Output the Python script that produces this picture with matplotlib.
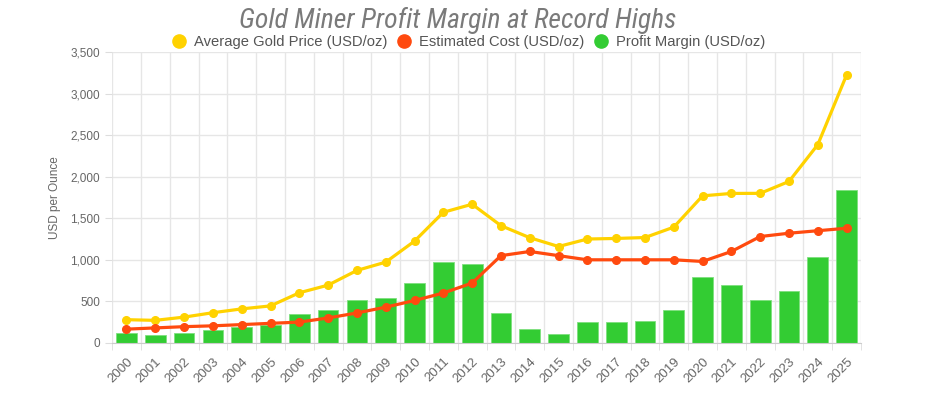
import matplotlib.pyplot as plt
import numpy as np
from matplotlib.ticker import FuncFormatter, FixedLocator
from matplotlib.lines import Line2D
from matplotlib import font_manager

years = [str(y) for y in range(2000, 2026)]
gold_price = [279, 271, 310, 363, 409, 445, 603, 695, 872, 972, 1225, 1572, 1669,
              1411, 1266, 1160, 1250, 1257, 1268, 1393, 1770, 1799, 1800, 1943, 2386, 3225]
est_cost = [165, 180, 195, 205, 220, 235, 250, 300, 360, 430, 510, 600, 720,
            1050, 1100, 1050, 1000, 1000, 1000, 1000, 980, 1100, 1280, 1320, 1350, 1380]
profit = [114, 91, 115, 158, 189, 210, 353, 395, 512, 542, 715, 972, 949,
          361, 166, 110, 250, 257, 268, 393, 790, 699, 520, 623, 1036, 1845]

GOLD = '#FFD200'
COST = '#FF4A0F'
GREEN = '#33CC33'
GRAY = '#666666'

plt.rcParams['font.family'] = ['Liberation Sans', 'DejaVu Sans']

# pick a narrow face for the title if one is around
installed = {f.name for f in font_manager.fontManager.ttflist}
narrow = [n for n in ['Roboto Condensed', 'Liberation Sans Narrow', 'DejaVu Sans Condensed',
                      'Open Sans Condensed'] if n in installed]
title_family = narrow[:1] + ['DejaVu Sans']
condensed_faces = [f for f in font_manager.fontManager.ttflist
                   if f.name == 'DejaVu Sans' and f.stretch == 'condensed']

fig = plt.figure(figsize=(9.42, 3.95), dpi=100)
ax = fig.add_axes([0.119, 0.132, 0.795, 0.736])

x = np.arange(len(years))
ax.bar(x, profit, width=0.72, color=GREEN, edgecolor='#7EE07E', linewidth=0.6, zorder=2)
ax.plot(x, gold_price, color=GOLD, lw=2.3, marker='o', ms=5.5, zorder=3)
ax.plot(x, est_cost, color=COST, lw=2.3, marker='o', ms=5.5, zorder=4)

ax.set_xlim(-0.5, len(years) - 0.5)
ax.set_ylim(0, 3500)
ax.set_yticks(range(0, 3501, 500))
ax.yaxis.set_major_formatter(FuncFormatter(lambda v, p: f'{int(v):,}'))
ax.set_xticks(x)
ax.set_xticklabels(years, rotation=45, ha='right', rotation_mode='anchor')
ax.xaxis.set_minor_locator(FixedLocator(np.arange(-0.5, len(years), 1)))
ax.tick_params(axis='x', which='major', length=0, labelsize=9.5, labelcolor=GRAY, pad=9)
ax.tick_params(axis='x', which='minor', length=5, color='#dddddd')
ax.tick_params(axis='y', length=5, color='#dddddd', labelsize=8.5, labelcolor=GRAY)

ax.grid(axis='y', color='#e6e6e6', lw=1, zorder=0)
ax.grid(axis='x', which='minor', color='#e6e6e6', lw=1, zorder=0)
for s in ['top', 'right', 'left']:
    ax.spines[s].set_visible(False)
ax.spines['bottom'].set_color('#cccccc')

ax.set_ylabel('USD per Ounce', color=GRAY, fontsize=8.5, labelpad=7)

title_kw = dict(fontsize=20, color='#7a7a7a', style='oblique', family=title_family)
if condensed_faces and not narrow:
    title_kw = dict(fontproperties=font_manager.FontProperties(
        fname=condensed_faces[0].fname, size=20), color='#7a7a7a')
    for f in condensed_faces:
        if f.style in ('oblique', 'italic') and f.weight in (400, 'normal'):
            title_kw['fontproperties'] = font_manager.FontProperties(fname=f.fname, size=20)
fig.text(0.486, 0.948, 'Gold Miner Profit Margin at Record Highs', ha='center', va='center',
         **title_kw)

handles = [Line2D([], [], ls='', marker='o', ms=9.5, color=c) for c in (GOLD, COST, GREEN)]
labels = ['Average Gold Price (USD/oz)', 'Estimated Cost (USD/oz)', 'Profit Margin (USD/oz)']
fig.legend(handles, labels, loc='center', bbox_to_anchor=(0.497, 0.893), ncol=3, frameon=False,
           fontsize=10.6, labelcolor='#555555', handletextpad=0.5, columnspacing=0.65,
           handlelength=1.0)

fig.savefig('out.png', dpi=100)
